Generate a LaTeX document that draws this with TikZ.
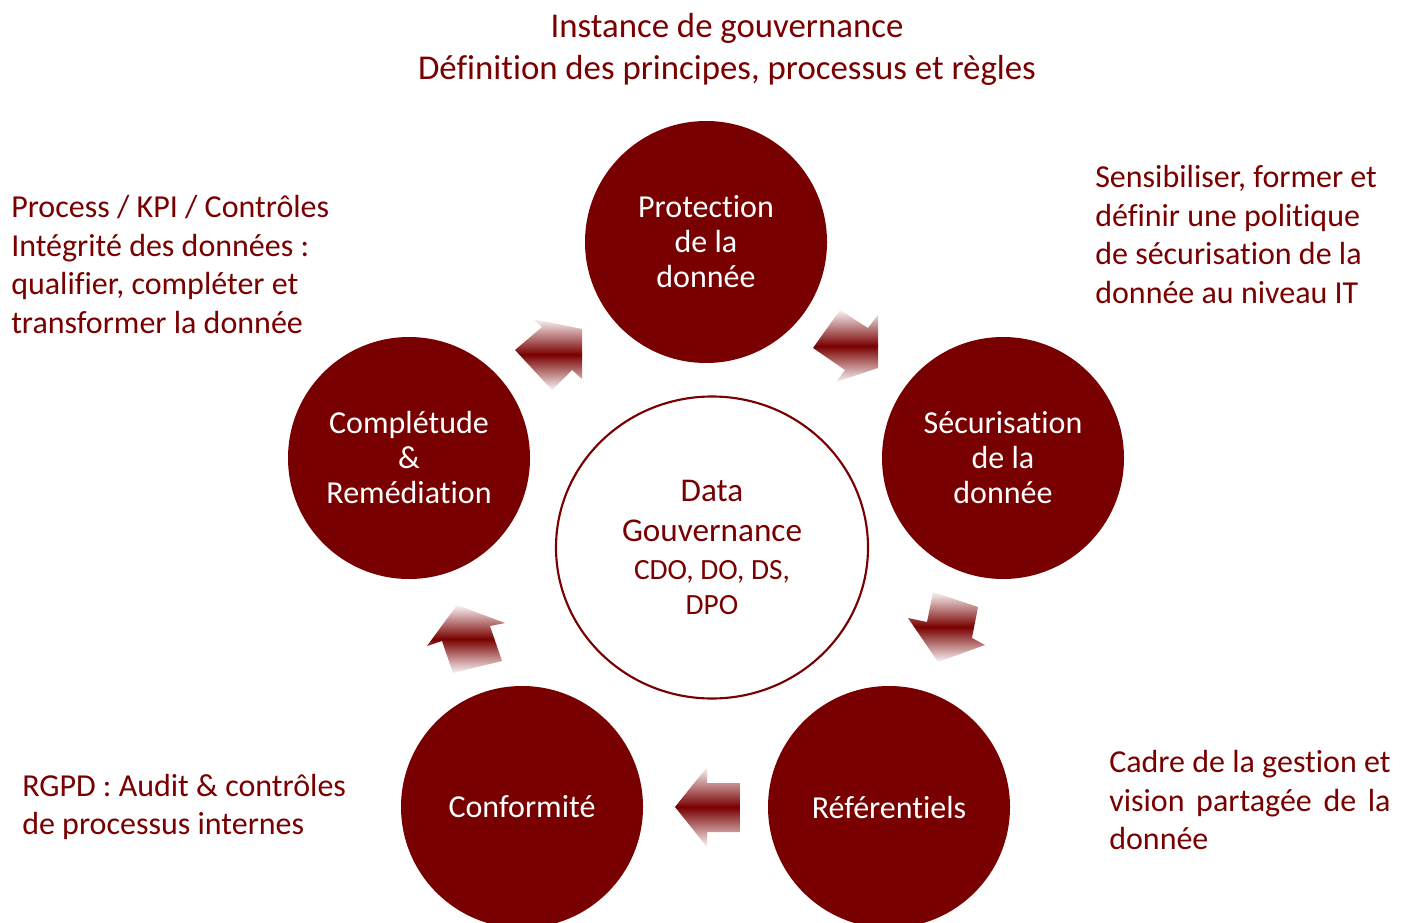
\documentclass[tikz,border=0pt]{standalone}
\usepackage{fontspec}
\setmainfont{Carlito}[Ligatures=NoCommon]
\usetikzlibrary{shapes.geometric}
\definecolor{dred}{HTML}{790000}
\begin{document}
\begin{tikzpicture}[x=0.75pt,y=-0.75pt,
  bub/.style={circle,fill=dred,minimum size=181.5pt,inner sep=0pt,text=white,align=center,font=\fontsize{24}{26.25}\selectfont},
  note/.style={text=dred,align=left,anchor=west,inner sep=0pt,font=\fontsize{24}{28.8}\selectfont},
  blk/.style={top color=dred!4,bottom color=dred!4,middle color=dred}
]
\useasboundingbox (0,0) rectangle (1401,923);

% title
\node[text=dred,align=center,inner sep=0pt,font=\fontsize{26.1}{31.5}\selectfont] (title) at (727,49)
  {Instance de gouvernance\\Définition des principes, processus et règles};

% side notes
\node[note] (ntl) at (11,264.5) {Process / KPI / Contrôles\\Intégrité des données :\\qualifier, compléter et\\transformer la donnée};
\node[note] (ntr) at (1095,234.5) {Sensibiliser, former et\\définir une politique\\de sécurisation de la\\donnée au niveau IT};
\node[note,align=justify,text width=211pt] (nbr) at (1109,800) {Cadre de la gestion et vision partagée de la donnée};
\node[note] (nbl) at (22,807) {RGPD : Audit \& contrôles\\de processus internes};

% central ellipse
\node[ellipse,draw=dred,line width=1.6pt,minimum width=234pt,minimum height=226.5pt,inner sep=0pt,
  align=center,text=dred,font=\fontsize{24.9}{30}\selectfont] (gov) at (712,547.5)
  {Data\\Gouvernance\\[-1.5pt]{\fontsize{22}{26}\selectfont CDO, DO, DS,}\\[-3.75pt]{\fontsize{22}{26}\selectfont DPO}};

% circles
\node[bub] (prot) at (706,242) {Protection\\de la\\donnée};
\node[bub] (secu) at (1003,458) {Sécurisation\\de la\\donnée};
\node[bub] (ref) at (889,807) {Référentiels};
\node[bub] (conf) at (522,807) {Conformité};
\node[bub] (comp) at (409,458) {Complétude\\\&\\Remédiation};

% block arrows (vertical gradient, not rotated with shape)
\shade[blk] (582,329) -- (533,319) -- (542,327) -- (515,350) -- (552,390) -- (572,370) -- (582,379) -- cycle;
\shade[blk] (878,368) -- (878,315) -- (868,328) -- (840,310) -- (813,348) -- (845,370) -- (836,382) -- cycle;
\shade[blk] (938,662) -- (908,618) -- (927,622) -- (933,592) -- (978,607) -- (972,638) -- (985,645) -- cycle;
\shade[blk] (675,807) -- (707,767) -- (707,783) -- (740,783) -- (740,832) -- (707,832) -- (707,847) -- cycle;
\shade[blk] (457,605) -- (427,646) -- (442,641) -- (453,673) -- (502,661) -- (490,626) -- (505,623) -- cycle;
\end{tikzpicture}
\end{document}
